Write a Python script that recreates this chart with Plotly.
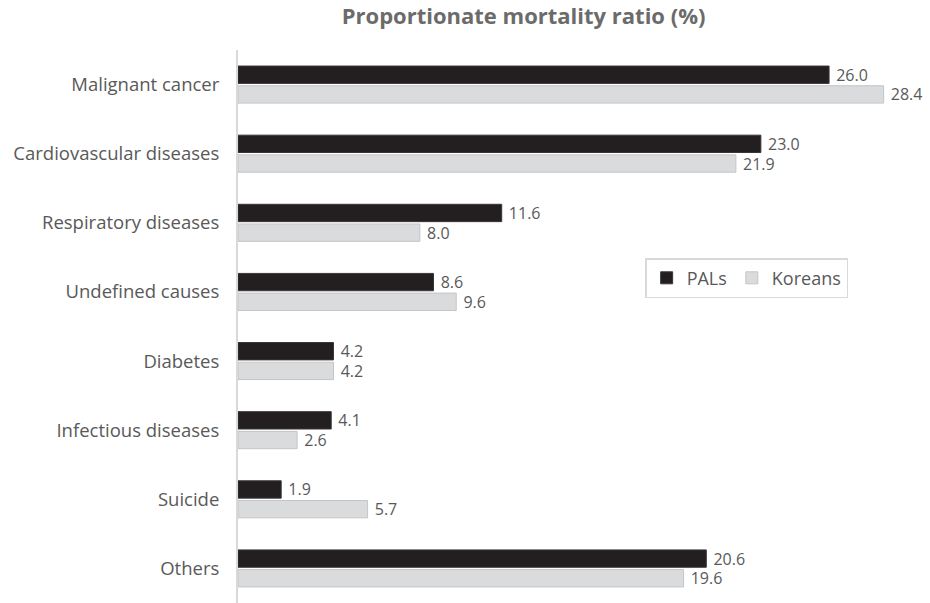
import plotly.graph_objects as go

categories = ["Malignant cancer", "Cardiovascular diseases", "Respiratory diseases",
              "Undefined causes", "Diabetes", "Infectious diseases", "Suicide", "Others"]
pals = [26.0, 23.0, 11.6, 8.6, 4.2, 4.1, 1.9, 20.6]
koreans = [28.4, 21.9, 8.0, 9.6, 4.2, 2.6, 5.7, 19.6]

font_family = "Open Sans, Noto Sans, sans-serif"
txt_color = "#595959"

fig = go.Figure()
fig.add_trace(go.Bar(
    y=categories, x=pals, orientation="h", name="PALs",
    marker=dict(color="#231f20", line=dict(color="#3a3637", width=1)),
    text=[f"\u00a0{v:.1f}" for v in pals], textposition="outside", constraintext="none",
    textfont=dict(size=16, color=txt_color, family=font_family),
    cliponaxis=False,
))
fig.add_trace(go.Bar(
    y=categories, x=koreans, orientation="h", name="Koreans",
    marker=dict(color="#dadbdc", line=dict(color="#c4c5c6", width=1)),
    text=[f"\u00a0{v:.1f}" for v in koreans], textposition="outside", constraintext="none",
    textfont=dict(size=16, color=txt_color, family=font_family),
    cliponaxis=False,
))

fig.update_layout(
    width=930, height=603,
    margin=dict(l=238, r=10, t=50, b=0),
    paper_bgcolor="white", plot_bgcolor="white",
    barmode="group", bargap=0.43, bargroupgap=0.12,
    font=dict(family=font_family, color=txt_color),
    title=dict(text="<b>Proportionate mortality ratio (%)</b>",
               x=0.563, xanchor="center", y=0.985, yanchor="top",
               font=dict(size=22, color="#6b6b6b", family=font_family)),
    legend=dict(orientation="h", x=0.597, xanchor="left", y=0.5875, yanchor="middle",
                bordercolor="#d9d9d9", borderwidth=1.5, bgcolor="white",
                font=dict(size=18, color=txt_color, family=font_family),
                traceorder="normal", itemwidth=30),
    showlegend=True,
)
fig.update_xaxes(range=[0, 30], showgrid=False, showticklabels=False, zeroline=False,
                 showline=False)
fig.update_yaxes(autorange="reversed", showgrid=False, showline=True, linecolor="#d9d9d9",
                 linewidth=2, ticks="", ticklabelstandoff=13,
                 tickfont=dict(size=18.5, color=txt_color, family=font_family))

fig.write_html("out.html")
